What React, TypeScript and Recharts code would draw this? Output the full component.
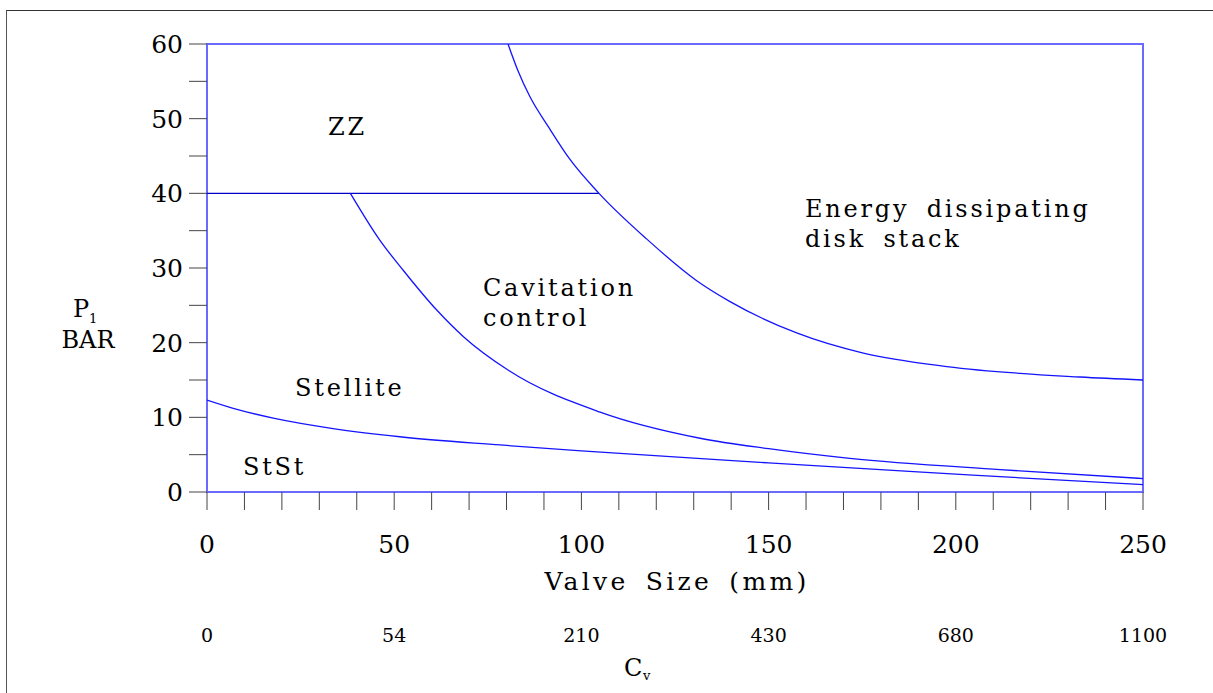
import { ComposedChart, Line, XAxis, YAxis, ReferenceArea, ReferenceDot } from 'recharts';

const SERIF = "'DejaVu Serif', 'Liberation Serif', serif";

// axis ticks
const mmTicks = [0, 10, 20, 30, 40, 50, 60, 70, 80, 90, 100, 110, 120, 130, 140, 150, 160, 170, 180, 190, 200, 210, 220, 230, 240, 250];
const barTicks = [0, 5, 10, 15, 20, 25, 30, 35, 40, 45, 50, 55, 60];
const cvTickPositions = [0, 50, 100, 150, 200, 250];
const cvTickLabels = ['0', '54', '210', '430', '680', '1100'];

// ZZ region floor at 40 bar
const zzBoundary = [
  { mm: 0, bar: 40 },
  { mm: 104.7, bar: 40 },
];

// ZZ / cavitation -> energy dissipating disk stack
const energyCurve = [
  { mm: 80.4, bar: 60 },
  { mm: 83, bar: 56.5 },
  { mm: 86.3, bar: 52.9 },
  { mm: 91.2, bar: 48.9 },
  { mm: 97, bar: 44.5 },
  { mm: 104.7, bar: 40 },
  { mm: 117.4, bar: 33.9 },
  { mm: 130.8, bar: 28.3 },
  { mm: 139.7, bar: 25.5 },
  { mm: 157.5, bar: 21.3 },
  { mm: 175.3, bar: 18.6 },
  { mm: 197.6, bar: 16.8 },
  { mm: 233.2, bar: 15.4 },
  { mm: 250, bar: 15.0 },
];

// stellite -> cavitation control
const cavitationCurve = [
  { mm: 38.3, bar: 40 },
  { mm: 46.2, bar: 33.7 },
  { mm: 52.4, bar: 29.7 },
  { mm: 61.3, bar: 24.4 },
  { mm: 68.5, bar: 20.8 },
  { mm: 80.5, bar: 16.3 },
  { mm: 105, bar: 10.7 },
  { mm: 131.7, bar: 7.2 },
  { mm: 150, bar: 5.8 },
  { mm: 171.7, bar: 4.5 },
  { mm: 211.8, bar: 3.0 },
  { mm: 250, bar: 1.8 },
];

// StSt -> stellite
const stelliteCurve = [
  { mm: 0, bar: 12.3 },
  { mm: 7, bar: 11.2 },
  { mm: 17.7, bar: 9.9 },
  { mm: 33.7, bar: 8.5 },
  { mm: 51.5, bar: 7.4 },
  { mm: 78.3, bar: 6.3 },
  { mm: 100, bar: 5.5 },
  { mm: 150, bar: 3.9 },
  { mm: 200, bar: 2.4 },
  { mm: 211.8, bar: 2.05 },
  { mm: 250, bar: 1.0 },
];

const regionLabels = [
  { mm: 32.3, bar: 47.8, lines: ['ZZ'] },
  { mm: 73.7, bar: 26.25, lines: ['Cavitation', 'control'] },
  { mm: 159.7, bar: 36.8, lines: ['Energy dissipating', 'disk stack'] },
  { mm: 23.5, bar: 12.85, lines: ['Stellite'] },
  { mm: 9.6, bar: 2.3, lines: ['StSt'] },
];

const multiLine = (lines: string[]) => (props: any) => {
  const vb = props.viewBox || {};
  return (
    <text
      x={vb.x}
      y={vb.y}
      fontFamily={SERIF}
      fontSize={24}
      letterSpacing={2.8}
      wordSpacing={7}
      fill="#000"
      style={{ whiteSpace: 'pre' }}
    >
      {lines.map((l, i) => (
        <tspan key={i} x={vb.x} dy={i === 0 ? 0 : 30}>
          {l}
        </tspan>
      ))}
    </text>
  );
};

// mm label on every 50, Cv label in a second row underneath
const BottomTick = (props: any) => {
  const { x, y, payload } = props;
  const v = payload.value as number;
  const ci = cvTickPositions.indexOf(v);
  return (
    <g fontFamily={SERIF} fill="#000">
      {v % 50 === 0 && (
        <text x={x} y={y + 18} fontSize={25} textAnchor="middle">
          {v}
        </text>
      )}
      {ci >= 0 && (
        <text x={x} y={y + 107} fontSize={19} textAnchor="middle">
          {cvTickLabels[ci]}
        </text>
      )}
    </g>
  );
};

export default function App() {
  return (
    <div style={{ position: 'relative', width: 1213, height: 693, overflow: 'hidden', background: '#fff' }}>
      <style>{'body{margin:0}'}</style>
      <div
        style={{
          position: 'absolute',
          left: 6,
          top: 10,
          width: 1400,
          height: 900,
          borderLeft: '1px solid #555',
          borderTop: '1px solid #333',
        }}
      />
      <div style={{ position: 'absolute', left: 0, top: 0 }}>
        <ComposedChart width={1213} height={693} margin={{ top: 44, right: 70, bottom: 200, left: 206 }}>
          <XAxis
            type="number"
            dataKey="mm"
            domain={[0, 250]}
            ticks={mmTicks}
            interval={0}
            height={1}
            allowDataOverflow
            axisLine={false}
            tickSize={18}
            tickMargin={25}
            tickLine={{ stroke: '#444' }}
            tick={<BottomTick />}
          />
          <YAxis
            type="number"
            domain={[0, 60]}
            ticks={barTicks}
            interval={0}
            width={1}
            allowDataOverflow
            axisLine={false}
            tickSize={18}
            tickMargin={6}
            tickLine={{ stroke: '#444' }}
            tick={{ fill: '#000', fontSize: 25, fontFamily: SERIF }}
            tickFormatter={(v: number) => (v % 10 === 0 ? String(v) : '')}
          />
          <ReferenceArea x1={0} x2={250} y1={0} y2={60} fill="none" stroke="#6a6aff" strokeWidth={2} />
          <Line data={zzBoundary} dataKey="bar" type="linear" stroke="#0000c8" strokeWidth={1.3} dot={false} isAnimationActive={false} />
          <Line data={energyCurve} dataKey="bar" type="monotone" stroke="#1414ff" strokeWidth={1.3} dot={false} isAnimationActive={false} />
          <Line data={cavitationCurve} dataKey="bar" type="monotone" stroke="#1414ff" strokeWidth={1.3} dot={false} isAnimationActive={false} />
          <Line data={stelliteCurve} dataKey="bar" type="monotone" stroke="#1414ff" strokeWidth={1.3} dot={false} isAnimationActive={false} />
          {regionLabels.map((r, i) => (
            <ReferenceDot
              key={i}
              x={r.mm}
              y={r.bar}
              r={0}
              fill="none"
              stroke="none"
              label={{ content: multiLine(r.lines) }}
            />
          ))}
        </ComposedChart>
      </div>
      <svg width={1213} height={693} style={{ position: 'absolute', left: 0, top: 0, pointerEvents: 'none' }}>
        <g fontFamily={SERIF} fill="#000">
          <text x={73} y={317} fontSize={24}>P</text>
          <text x={89} y={323} fontSize={13}>1</text>
          <text x={88} y={348} fontSize={24} textAnchor="middle">BAR</text>
          <text x={677} y={590} fontSize={25} textAnchor="middle" letterSpacing={3.3} wordSpacing={6} style={{ whiteSpace: 'pre' }}>
            Valve Size (mm)
          </text>
          <text x={624} y={676} fontSize={24}>C</text>
          <text x={643} y={680} fontSize={13}>v</text>
        </g>
      </svg>
    </div>
  );
}
